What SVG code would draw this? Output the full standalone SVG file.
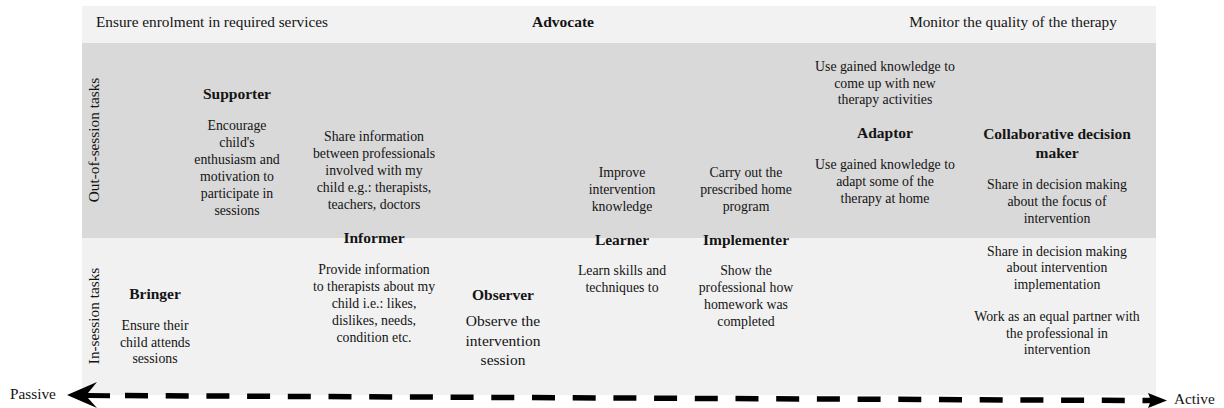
<svg xmlns="http://www.w3.org/2000/svg" width="1224" height="408" viewBox="0 0 1224 408">
<style>
text{font-family:"Liberation Serif","Times New Roman",serif;fill:#141414}
.t{font-size:15.5px;font-weight:bold;text-anchor:middle}
.d{font-size:13.8px;text-anchor:middle}
.o{font-size:15.5px;text-anchor:middle}
.l{font-size:15.3px;text-anchor:middle}
.p{font-size:15.3px}
</style>
<rect id="band-top" x="82" y="6" width="1074" height="37" fill="#f2f2f2"/>
<rect id="band-out" x="82" y="43" width="1074" height="195" fill="#d9d9d9"/>
<rect id="band-in" x="82" y="238" width="1074" height="157" fill="#f1f1f1"/>
<g id="axis-labels">
<text class="l" transform="translate(99,140) rotate(-90)">Out-of-session tasks</text>
<text class="l" transform="translate(99,316) rotate(-90)">In-session tasks</text>
</g>
<g id="advocate">
<text class="p" x="96" y="27">Ensure enrolment in required services</text>
<text class="t" x="563" y="27">Advocate</text>
<text class="p" x="1013" y="27" text-anchor="middle">Monitor the quality of the therapy</text>
</g>
<g id="supporter">
<text class="t" x="237" y="99">Supporter</text>
<text class="d" x="237" y="130">Encourage</text>
<text class="d" x="237" y="147">child's</text>
<text class="d" x="237" y="164">enthusiasm and</text>
<text class="d" x="237" y="181">motivation to</text>
<text class="d" x="237" y="198">participate in</text>
<text class="d" x="237" y="215">sessions</text>
</g>
<g id="informer">
<text class="d" x="374" y="141">Share information</text>
<text class="d" x="374" y="158">between professionals</text>
<text class="d" x="374" y="175">involved with my</text>
<text class="d" x="374" y="192">child e.g.: therapists,</text>
<text class="d" x="374" y="209">teachers, doctors</text>
<text class="t" x="374" y="243">Informer</text>
<text class="d" x="374" y="274">Provide information</text>
<text class="d" x="374" y="291">to therapists about my</text>
<text class="d" x="374" y="308">child i.e.: likes,</text>
<text class="d" x="374" y="325">dislikes, needs,</text>
<text class="d" x="374" y="342">condition etc.</text>
</g>
<g id="bringer">
<text class="t" x="155" y="299">Bringer</text>
<text class="d" x="155" y="330">Ensure their</text>
<text class="d" x="155" y="347">child attends</text>
<text class="d" x="155" y="363">sessions</text>
</g>
<g id="observer">
<text class="t" x="503" y="300">Observer</text>
<text class="o" x="503" y="326">Observe the</text>
<text class="o" x="503" y="345.5">intervention</text>
<text class="o" x="503" y="365">session</text>
</g>
<g id="learner">
<text class="d" x="622" y="177">Improve</text>
<text class="d" x="622" y="194">intervention</text>
<text class="d" x="622" y="211">knowledge</text>
<text class="t" x="622" y="245">Learner</text>
<text class="d" x="622" y="275">Learn skills and</text>
<text class="d" x="622" y="292">techniques to</text>
</g>
<g id="implementer">
<text class="d" x="746" y="177">Carry out the</text>
<text class="d" x="746" y="194">prescribed home</text>
<text class="d" x="746" y="211">program</text>
<text class="t" x="746" y="245">Implementer</text>
<text class="d" x="746" y="275">Show the</text>
<text class="d" x="746" y="292">professional how</text>
<text class="d" x="746" y="309">homework was</text>
<text class="d" x="746" y="326">completed</text>
</g>
<g id="adaptor">
<text class="d" x="885" y="71">Use gained knowledge to</text>
<text class="d" x="885" y="88">come up with new</text>
<text class="d" x="885" y="104">therapy activities</text>
<text class="t" x="885" y="138">Adaptor</text>
<text class="d" x="885" y="169">Use gained knowledge to</text>
<text class="d" x="885" y="186">adapt some of the</text>
<text class="d" x="885" y="203">therapy at home</text>
</g>
<g id="collaborative-decision-maker">
<text class="t" x="1057" y="139">Collaborative decision</text>
<text class="t" x="1057" y="158">maker</text>
<text class="d" x="1057" y="189">Share in decision making</text>
<text class="d" x="1057" y="206">about the focus of</text>
<text class="d" x="1057" y="223">intervention</text>
<text class="d" x="1057" y="256">Share in decision making</text>
<text class="d" x="1057" y="272">about intervention</text>
<text class="d" x="1057" y="289">implementation</text>
<text class="d" x="1057" y="321">Work as an equal partner with</text>
<text class="d" x="1057" y="338">the professional in</text>
<text class="d" x="1057" y="354">intervention</text>
</g>
<g id="connectors">
<line x1="125" y1="395.6" x2="1150" y2="400.6" stroke="#000" stroke-width="5.5" stroke-dasharray="23 17.7"/>
<polygon points="67,395 97,382 88,393 110,393.3 110,398.3 88,398 97,408" fill="#000"/>
<polygon points="1145,398 1150,398 1148,393 1167,400.5 1148,408 1150,403 1145,403" fill="#000"/>
<text class="p" x="10" y="399">Passive</text>
<text class="p" x="1174" y="404">Active</text>
</g>
</svg>
